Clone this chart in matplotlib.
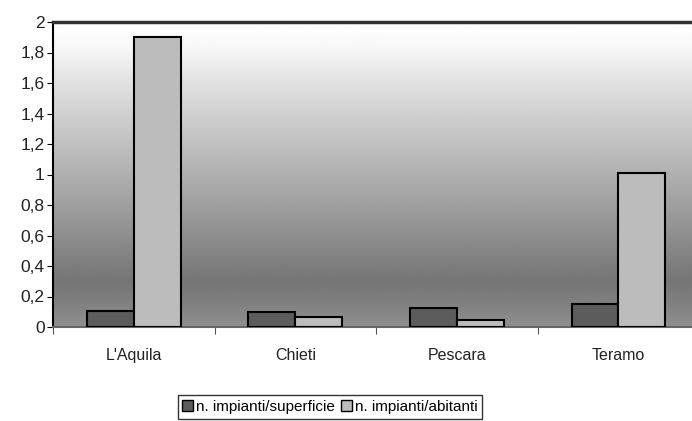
import numpy as np
import matplotlib
matplotlib.use("Agg")
import matplotlib.pyplot as plt
from matplotlib.patches import Patch

plt.rcParams['font.family'] = ['Liberation Sans', 'DejaVu Sans']

# data
province = ["L'Aquila", "Chieti", "Pescara", "Teramo"]
per_superficie = [0.105, 0.10, 0.125, 0.15]
per_abitanti = [1.90, 0.065, 0.045, 1.01]
series_names = ["n. impianti/superficie", "n. impianti/abitanti"]
yticks = [0, 0.2, 0.4, 0.6, 0.8, 1, 1.2, 1.4, 1.6, 1.8, 2]

fig = plt.figure(figsize=(6.92, 4.21), dpi=100)
ax = fig.add_axes([53 / 692, 1 - 327 / 421, 1 - 53 / 692, (327 - 22) / 421])

# background gradient (light at top, dark near the bottom)
stops_y = [0.0, 0.08, 0.15, 0.5, 0.8, 0.92, 1.0]
stops_c = [0.56, 0.50, 0.46, 0.69, 0.88, 0.97, 1.0]
ys = np.linspace(0, 1, 300)
grad = np.interp(ys, stops_y, stops_c)[:, None]
ax.imshow(grad, cmap='gray', vmin=0, vmax=1, origin='lower',
          extent=[0, 1, 0, 1], transform=ax.transAxes, aspect='auto', zorder=0)

x = np.arange(len(province))
w = 0.29
ax.bar(x - w / 2, per_superficie, w, color='#5c5c5c', edgecolor='black',
       linewidth=1.5, zorder=3, label=series_names[0])
ax.bar(x + w / 2, per_abitanti, w, color='#bcbcbc', edgecolor='black',
       linewidth=1.5, zorder=3, label=series_names[1])

ax.set_xlim(-0.5, 3.455)
ax.set_ylim(0, 2)
ax.set_yticks(yticks)
ax.set_yticklabels([("%g" % v).replace('.', ',') for v in yticks], fontsize=12.5, color='#222222')
ax.set_xticks([-0.5, 0.5, 1.5, 2.5])
ax.set_xticklabels([])
ax.set_xticks(x, minor=True)
ax.set_xticklabels(province, minor=True, fontsize=11.5, color='#222222')
ax.tick_params(axis='x', which='minor', length=0, pad=15)
ax.tick_params(axis='x', which='major', length=5, direction='out', color='#555555')
ax.tick_params(axis='y', length=4, direction='out', pad=2)

ax.spines['right'].set_visible(False)
ax.spines['top'].set_linewidth(2.5)
ax.spines['top'].set_color('#333333')
ax.spines['left'].set_linewidth(1.5)
ax.spines['bottom'].set_color('#666666')
ax.spines['bottom'].set_linewidth(1.5)

handles = [Patch(facecolor='#5c5c5c', edgecolor='black'),
           Patch(facecolor='#bcbcbc', edgecolor='black')]
fig.legend(handles, series_names, loc='center', bbox_to_anchor=(330 / 692, 1 - 407 / 421),
           ncol=2, fontsize=11, frameon=True, fancybox=False, edgecolor='black',
           handlelength=0.7, handleheight=0.7, handletextpad=0.2, columnspacing=0.4,
           borderpad=0.3)

fig.savefig("out.png", dpi=100)
